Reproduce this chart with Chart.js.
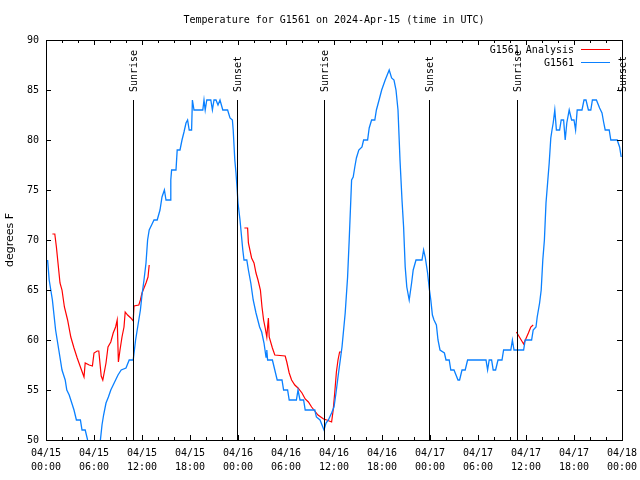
<!DOCTYPE html>
<html lang="en">
<head>
    <meta charset="UTF-8">
    <title>Temperature for G1561</title>
    <script src="https://cdn.jsdelivr.net/npm/chart.js"></script>
    <style>
        body { margin: 0; background: #fff; }
        #wrap { width: 640px; height: 480px; }
    </style>
</head>
<body>
    <div id="wrap"><canvas id="tempChart" width="640" height="480"></canvas></div>
    <script>
        // Hours since 04/15 00:00 UTC, temperature in degrees F
        const stationHours = [0.2, 0.4, 0.6, 0.8, 1.0, 1.2, 1.4, 1.6, 1.8, 2.0, 2.2, 2.4, 2.6, 2.9, 3.1, 3.5, 3.8, 4.3, 4.5, 4.9,
            5.2, 5.5, 6.0, 6.5, 6.8, 7.0, 7.2, 7.5, 7.8, 8.1, 8.4, 8.7, 9.0, 9.4, 10.0, 10.4, 10.9, 11.2, 11.5, 11.8,
            12.0, 12.25, 12.5, 12.7, 12.9, 13.2, 13.5, 13.9, 14.25, 14.5, 14.8, 15.0, 15.5, 15.6, 15.7, 16.25, 16.4, 16.75, 17.0, 17.25,
            17.5, 17.7, 17.9, 18.2, 18.3, 18.5, 19.6, 19.75, 19.9, 20.1, 20.6, 20.8, 21.0, 21.25, 21.5, 21.75, 22.1, 22.7, 23.0, 23.3,
            23.4, 23.6, 23.75, 23.9, 24.0, 24.25, 24.6, 24.75, 25.1, 25.3, 25.6, 25.9, 26.25, 26.7, 26.96, 27.25, 27.5, 27.6, 27.7, 28.3,
            28.6, 28.9, 29.5, 29.7, 30.2, 30.4, 31.3, 31.5, 31.75, 32.2, 32.4, 33.6, 33.8, 34.25, 34.5, 34.75, 35.0, 35.3, 35.7, 36.0,
            36.25, 36.5, 37.0, 37.4, 37.7, 37.9, 38.1, 38.2, 38.4, 38.6, 38.8, 39.1, 39.5, 39.7, 40.2, 40.4, 40.7, 41.1, 41.3, 41.7,
            41.96, 42.4, 42.9, 43.2, 43.5, 43.75, 44.0, 44.25, 44.5, 44.7, 44.9, 45.1, 45.4, 45.7, 45.9, 46.25, 47.0, 47.2, 47.4, 47.7,
            47.9, 48.1, 48.3, 48.5, 48.8, 49.0, 49.25, 49.8, 50.0, 50.4, 50.6, 51.0, 51.5, 51.7, 52.0, 52.4, 52.7, 55.0, 55.2, 55.4,
            55.7, 55.9, 56.2, 56.5, 57.0, 57.2, 58.1, 58.3, 58.5, 59.7, 59.9, 60.7, 60.9, 61.25, 61.4, 61.7, 61.9, 62.1, 62.3, 62.5,
            62.7, 62.9, 63.1, 63.25, 63.4, 63.6, 63.8, 64.2, 64.4, 64.7, 64.9, 65.1, 65.4, 65.7, 66.0, 66.2, 66.4, 67.0, 67.25, 67.5,
            67.8, 68.1, 68.3, 68.8, 69.2, 69.5, 69.7, 69.9, 70.4, 70.6, 71.4, 71.7, 71.9];
        const stationTemps = [68, 66, 65, 64, 62.5, 61, 60, 59, 58, 57, 56.5, 56, 55, 54.5, 54, 53, 52, 52, 51, 51,
            50, 49.3, 49, 49.5, 50, 51.5, 52.5, 53.7, 54.3, 55, 55.5, 56, 56.5, 57, 57.2, 58, 58, 60, 61.5, 63,
            64.5, 66, 67.7, 70, 71, 71.5, 72, 72, 73, 74.3, 75, 74, 74, 76, 77, 77, 79, 79, 80, 80.8,
            81.7, 82, 81, 81, 84, 83, 83, 84, 83, 84, 84, 83, 84, 84, 83.5, 84, 83, 83, 82.2, 82,
            81, 78, 76.7, 75, 73.7, 72, 69, 68, 68, 67, 65.7, 64, 62.7, 61.3, 60.8, 59.7, 58.3, 59, 58, 58,
            57, 56, 56, 55, 55, 54, 54, 55, 54, 54, 53, 53, 52.3, 52, 51.5, 51, 51.7, 52, 52.7, 53.3,
            54.7, 56.3, 59.3, 62.7, 66.3, 70, 74, 76, 76.3, 77.3, 78.2, 79, 79.3, 80, 80, 81.2, 82, 82, 83, 84.2,
            85, 86, 87, 86.2, 86, 85, 83, 78, 74, 71.3, 67.3, 65.3, 64, 65.7, 67, 68, 68, 69, 68.3, 66.7,
            65.2, 64, 62.5, 62, 61.5, 60, 59, 58.7, 58, 58, 57, 57, 56, 56, 57, 57, 58, 58, 57, 58,
            58, 57, 57, 58, 58, 59, 59, 60, 59, 59, 60, 60, 61, 61.3, 62.3, 63.7, 65, 68, 70, 73.7,
            75.7, 77.7, 80.2, 81, 81.7, 83, 81, 81, 82, 82, 80, 81.7, 83, 82, 82, 81, 83, 83, 84, 84,
            83, 83, 84, 84, 83.2, 82.7, 81.8, 81, 81, 80, 80, 79.3, 78.3];

        // Analysis series has gaps (null)
        const analysisHours = [0.8, 1.1, 1.3, 1.5, 1.75, 2.0, 2.3, 2.7, 3.1, 3.5, 3.9, 4.3, 4.75, 4.9, 5.4, 5.8, 6.0, 6.4, 6.6, 6.9,
            7.1, 7.5, 7.75, 8.1, 8.4, 8.7, 8.9, 9.05, 9.25, 9.5, 9.75, 9.9, 10.2, 10.6, 10.9, 11.0, 11.6, 11.8, 12.0, 12.25,
            12.5, 12.75, 12.9, 18.0,
            24.8, 25.2, 25.3, 25.7, 26.0, 26.25, 26.5, 26.8, 27.0, 27.2, 27.4, 27.6, 27.7, 27.8, 27.9, 28.3, 28.6, 29.9, 30.1, 30.4,
            30.7, 31.1, 31.5, 32.0, 32.4, 32.8, 33.2, 33.6, 34.0, 34.7, 35.1, 35.7, 35.9, 36.1, 36.3, 36.5, 36.7, 37.0, 48.0,
            58.8, 59.7, 60.3, 60.6, 60.9];
        const analysisTemps = [70.6, 70.6, 69.3, 67.7, 65.7, 65, 63.3, 62, 60.3, 59.2, 58.2, 57.3, 56.3, 57.7, 57.5, 57.4, 58.7, 58.9, 58.9, 56.4,
            56, 57.7, 59.3, 59.8, 60.7, 61.3, 62, 57.8, 59, 60.3, 61.3, 62.8, 62.5, 62.2, 61.9, 63.4, 63.5, 64, 64.7, 65.2,
            65.7, 66.3, 67.5, null,
            71.2, 71.2, 69.7, 68.2, 67.7, 66.7, 66, 65, 63.3, 62, 61.2, 60.3, 61.3, 62.2, 60.3, 59.2, 58.5, 58.4, 57.8, 56.7,
            56, 55.5, 55.2, 54.7, 54.1, 53.8, 53.3, 52.9, 52.5, 52.1, 52, 51.8, 53, 54.8, 56.8, 58, 58.8, 58.8, null,
            60.8, 59.6, 60.7, 61.3, 61.5];

        const seriesNames = ['G1561 Analysis', 'G1561'];
        const xTickLabels = [
            ['04/15', '00:00'], ['04/15', '06:00'], ['04/15', '12:00'], ['04/15', '18:00'],
            ['04/16', '00:00'], ['04/16', '06:00'], ['04/16', '12:00'], ['04/16', '18:00'],
            ['04/17', '00:00'], ['04/17', '06:00'], ['04/17', '12:00'], ['04/17', '18:00'],
            ['04/18', '00:00']
        ];
        const sunHours = [10.92, 23.92, 34.8, 47.92, 58.83, 72];
        const sunLabels = ['Sunrise', 'Sunset', 'Sunrise', 'Sunset', 'Sunrise', 'Sunset'];

        const MONO = "'DejaVu Sans Mono', 'Liberation Mono', monospace";
        Chart.defaults.color = '#000';
        Chart.defaults.font.family = MONO;
        Chart.defaults.font.size = 10;

        // frame, inward ticks, sunrise/sunset markers and legend (gnuplot style)
        const decor = {
            id: 'decor',
            afterDatasetsDraw(chart) {
                const { ctx, chartArea: a, scales: { x, y } } = chart;
                ctx.save();
                ctx.strokeStyle = '#000';
                ctx.lineWidth = 1;
                ctx.beginPath();
                x.ticks.forEach(t => {
                    const px = Math.round(x.getPixelForValue(t.value)) + 0.5;
                    const len = t.value % 6 === 0 ? 5 : 3;
                    ctx.moveTo(px, a.bottom); ctx.lineTo(px, a.bottom - len);
                    ctx.moveTo(px, a.top); ctx.lineTo(px, a.top + len);
                });
                y.ticks.forEach(t => {
                    const py = Math.round(y.getPixelForValue(t.value)) + 0.5;
                    ctx.moveTo(a.left, py); ctx.lineTo(a.left + 5, py);
                    ctx.moveTo(a.right, py); ctx.lineTo(a.right - 5, py);
                });
                // sun lines from graph 0 up to graph 0.85
                const lineTop = Math.round(a.bottom - 0.85 * (a.bottom - a.top));
                sunHours.forEach(h => {
                    const px = Math.round(x.getPixelForValue(h)) + 0.5;
                    ctx.moveTo(px, a.bottom); ctx.lineTo(px, lineTop);
                });
                ctx.stroke();
                ctx.strokeRect(a.left + 0.5, a.top + 0.5, a.right - a.left, a.bottom - a.top);

                ctx.fillStyle = '#000';
                ctx.font = '10px ' + MONO;
                ctx.textAlign = 'left';
                ctx.textBaseline = 'middle';
                sunHours.forEach((h, i) => {
                    const px = Math.round(x.getPixelForValue(h)) + 1;
                    ctx.save();
                    ctx.translate(px, lineTop - 8);
                    ctx.rotate(-Math.PI / 2);
                    ctx.fillText(sunLabels[i], 0, 0);
                    ctx.restore();
                });

                // key, top right
                ctx.textAlign = 'right';
                chart.data.datasets.forEach((ds, i) => {
                    const ky = a.top + 10 + i * 13;
                    ctx.fillStyle = '#000';
                    ctx.fillText(ds.label, a.right - 48, ky);
                    ctx.strokeStyle = ds.borderColor;
                    ctx.beginPath();
                    ctx.moveTo(a.right - 41, ky - 0.5);
                    ctx.lineTo(a.right - 12, ky - 0.5);
                    ctx.stroke();
                });
                ctx.restore();
            }
        };

        new Chart(document.getElementById('tempChart'), {
            type: 'line',
            data: {
                datasets: [{
                    label: seriesNames[0],
                    data: analysisHours.map((h, i) => ({ x: h, y: analysisTemps[i] })),
                    borderColor: '#ff0000',
                    borderWidth: 1.2,
                    pointRadius: 0,
                    tension: 0,
                    spanGaps: false,
                    order: 1
                }, {
                    label: seriesNames[1],
                    data: stationHours.map((h, i) => ({ x: h, y: stationTemps[i] })),
                    borderColor: '#0a80ff',
                    borderWidth: 1.3,
                    pointRadius: 0,
                    tension: 0,
                    order: 0
                }]
            },
            options: {
                responsive: false,
                animation: false,
                layout: { padding: { left: 0, right: 18, top: 0, bottom: 0 } },
                plugins: {
                    legend: { display: false },
                    tooltip: { enabled: false },
                    title: {
                        display: true,
                        fullSize: false,
                        text: 'Temperature for G1561 on 2024-Apr-15 (time in UTC)',
                        font: { size: 10, weight: 'normal', lineHeight: 1.2 },
                        padding: { top: 14, bottom: 14 }
                    }
                },
                scales: {
                    x: {
                        type: 'linear',
                        min: 0,
                        max: 72,
                        grid: { display: false, drawTicks: false },
                        border: { display: false },
                        ticks: {
                            stepSize: 2,
                            autoSkip: false,
                            maxRotation: 0,
                            padding: 7,
                            font: { size: 10, lineHeight: 1.35 },
                            callback: v => v % 6 === 0 ? xTickLabels[v / 6] : ''
                        },
                        afterFit: s => { s.height = 40; s.paddingLeft = 0; s.paddingRight = 0; }
                    },
                    y: {
                        min: 50,
                        max: 90,
                        grid: { display: false, drawTicks: false },
                        border: { display: false },
                        ticks: { stepSize: 5, padding: 7, font: { size: 10 } },
                        title: {
                            display: true,
                            text: 'degrees F',
                            font: { family: "'DejaVu Sans', sans-serif", size: 11 },
                            padding: { top: 4, bottom: 0 }
                        },
                        afterFit: s => { s.width = 46; s.paddingTop = 0; s.paddingBottom = 0; }
                    }
                }
            },
            plugins: [decor]
        });
    </script>
</body>
</html>
